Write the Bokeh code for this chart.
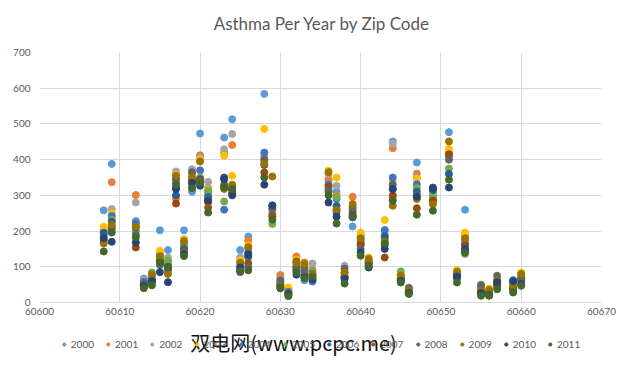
from bokeh.plotting import figure
from bokeh.layouts import column
from bokeh.models import (Legend, LegendItem, FixedTicker, BasicTickFormatter, Label)
from bokeh.embed import file_html
from bokeh.resources import INLINE

# ---------------- data ----------------
zip_codes = [60608, 60609, 60612, 60613, 60614, 60615, 60616, 60617, 60618, 60619,
             60620, 60621, 60623, 60624, 60625, 60626, 60628, 60629, 60630, 60631,
             60632, 60633, 60634, 60636, 60637, 60638, 60639, 60640, 60641, 60643,
             60644, 60645, 60646, 60647, 60649, 60651, 60652, 60653, 60655, 60656,
             60657, 60659, 60660]

y2000 = [258, 388, 228, 67, 75, 202, 147, 345, 202, 310, 473, 300, 462, 513, 147, 185, 584, 260, 70, 35,
         98, 62, 62, 340, 310, 85, 213, 190, 115, 180, 451, 72, 38, 392, 300, 477, 80, 260, 40, 30, 60, 63, 70]
y2001 = [205, 337, 301, 60, 70, 140, 115, 290, 170, 360, 412, 320, 420, 441, 110, 173, 412, 250, 77, 38,
         129, 112, 92, 345, 300, 80, 296, 180, 118, 200, 432, 78, 36, 361, 310, 416, 85, 190, 42, 32, 58, 55, 75]
y2002 = [200, 262, 280, 62, 72, 135, 126, 367, 165, 373, 405, 338, 429, 472, 126, 150, 406, 265, 65, 40,
         110, 95, 109, 360, 327, 103, 270, 185, 120, 190, 445, 70, 42, 350, 305, 420, 82, 185, 45, 28, 65, 50, 72]
y2003 = [212, 250, 215, 55, 68, 145, 110, 358, 178, 355, 400, 315, 411, 355, 118, 160, 486, 255, 60, 42,
         120, 105, 84, 369, 350, 90, 250, 196, 126, 231, 340, 80, 35, 346, 280, 430, 91, 196, 38, 39, 55, 45, 84]
y2004 = [190, 242, 222, 58, 65, 120, 105, 320, 160, 330, 370, 310, 260, 320, 100, 140, 420, 245, 55, 30,
         95, 85, 59, 330, 290, 72, 238, 170, 105, 203, 350, 65, 32, 331, 290, 410, 75, 175, 35, 25, 52, 58, 68]
y2005 = [185, 232, 200, 52, 84, 125, 117, 335, 155, 325, 350, 313, 283, 310, 105, 125, 395, 220, 52, 28,
         105, 80, 88, 320, 295, 75, 260, 175, 110, 175, 294, 87, 30, 320, 295, 375, 72, 136, 50, 22, 50, 40, 65]
y2006 = [195, 226, 210, 50, 62, 115, 100, 300, 150, 340, 345, 295, 350, 315, 95, 130, 385, 270, 50, 25,
         90, 75, 70, 310, 270, 70, 245, 160, 108, 185, 318, 68, 28, 310, 315, 360, 78, 160, 30, 24, 45, 42, 66]
y2007 = [175, 212, 154, 48, 58, 110, 95, 277, 145, 345, 342, 266, 330, 305, 90, 110, 364, 240, 48, 22,
         115, 100, 75, 325, 257, 68, 255, 165, 112, 126, 300, 66, 26, 264, 285, 415, 70, 163, 28, 26, 48, 38, 60]
y2008 = [170, 205, 190, 54, 55, 105, 90, 345, 140, 365, 338, 290, 325, 325, 85, 100, 400, 262, 62, 27,
         100, 90, 80, 315, 250, 95, 265, 150, 100, 160, 330, 62, 40, 300, 322, 400, 68, 145, 48, 20, 75, 35, 62]
y2009 = [165, 218, 212, 45, 78, 130, 80, 355, 172, 350, 395, 280, 318, 330, 112, 155, 388, 353, 45, 20,
         112, 108, 78, 365, 260, 84, 276, 180, 122, 170, 271, 75, 34, 290, 275, 451, 86, 180, 32, 35, 62, 48, 80]
y2010 = [180, 170, 168, 47, 60, 85, 57, 318, 135, 335, 327, 285, 345, 300, 98, 135, 330, 272, 40, 24,
         78, 70, 65, 280, 240, 66, 242, 140, 98, 150, 318, 60, 27, 296, 320, 322, 73, 150, 26, 21, 57, 60, 52]
y2011 = [143, 196, 182, 40, 48, 112, 98, 330, 130, 320, 335, 252, 322, 318, 88, 90, 350, 232, 42, 18,
         85, 68, 72, 300, 221, 53, 240, 131, 102, 165, 285, 56, 24, 246, 257, 344, 56, 140, 19, 19, 37, 28, 47]

years = ["2000", "2001", "2002", "2003", "2004", "2005", "2006", "2007", "2008", "2009", "2010", "2011"]
series = [y2000, y2001, y2002, y2003, y2004, y2005, y2006, y2007, y2008, y2009, y2010, y2011]
colors = ["#5B9BD5", "#ED7D31", "#A5A5A5", "#FFC000", "#4472C4", "#70AD47",
          "#255E91", "#9E480E", "#636363", "#997300", "#264478", "#43682B"]

x_ticks = [60600, 60610, 60620, 60630, 60640, 60650, 60660, 60670]
y_ticks = [0, 100, 200, 300, 400, 500, 600, 700]

title_text = "Asthma Per Year by Zip Code"
watermark_text = "双电网(www.pcpc.me)"

FONT = "Lato"
TXT = "#595959"
GRID = "#D9D9D9"


def strip(height):
    f = figure(width=632, height=height, x_range=(0, 1), y_range=(0, 1),
               output_backend="svg", toolbar_location=None,
               min_border=0, min_border_left=0, min_border_right=0,
               min_border_top=0, min_border_bottom=0)
    f.axis.visible = False
    f.grid.visible = False
    f.outline_line_color = None
    f.background_fill_color = "white"
    f.border_fill_color = "white"
    return f


# ---------------- title strip ----------------
tf = strip(36)
tf.add_layout(Label(x=0.503, y=0.36, text=title_text, text_font=FONT, text_font_size="17px",
                    text_color=TXT, text_align="center", text_baseline="middle"))

# ---------------- main chart ----------------
p = figure(frame_width=562, frame_height=250, x_range=(60600, 60670), y_range=(0, 700),
           output_backend="svg", toolbar_location=None,
           min_border_left=39, min_border_right=31, min_border_top=16, min_border_bottom=20)

p.outline_line_color = None
p.background_fill_color = "white"
p.border_fill_color = "white"

for ax in (p.xaxis[0], p.yaxis[0]):
    ax.major_label_text_font = FONT
    ax.major_label_text_font_size = "10px"
    ax.major_label_text_color = TXT
    ax.major_tick_line_color = None
    ax.minor_tick_line_color = None
    ax.major_tick_out = 0
    ax.major_tick_in = 0
    ax.minor_tick_out = 0

p.xaxis.ticker = FixedTicker(ticks=x_ticks)
p.yaxis.ticker = FixedTicker(ticks=y_ticks)
p.xaxis.formatter = BasicTickFormatter(use_scientific=False)
p.xaxis.axis_line_color = GRID
p.yaxis.axis_line_color = None
p.xaxis.major_label_standoff = 5
p.yaxis.major_label_standoff = 9

p.xgrid.grid_line_color = GRID
p.ygrid.grid_line_color = GRID
p.xgrid.ticker = FixedTicker(ticks=x_ticks)
p.ygrid.ticker = FixedTicker(ticks=y_ticks)

for name, ys, c in zip(years, series, colors):
    p.scatter(zip_codes, ys, size=7, fill_color=c, line_color=c, marker="circle")

# ---------------- legend strip ----------------
# same series, but this strip's ranges keep them out of view: only the legend shows
lf = strip(44)
items = []
for name, ys, c in zip(years, series, colors):
    r = lf.scatter(zip_codes, ys, size=7, fill_color=c, line_color=c, marker="circle")
    items.append(LegendItem(label=name, renderers=[r]))

legend = Legend(items=items, orientation="horizontal", location="center",
                border_line_color=None, background_fill_alpha=0,
                label_text_font=FONT, label_text_font_size="10px", label_text_color=TXT,
                label_height=12, glyph_width=8, glyph_height=8, label_standoff=3, spacing=10,
                padding=0, margin=0)
lf.add_layout(legend)

wm = Label(x=0.452, y=0.55, text=watermark_text, text_font="Noto Sans CJK SC",
           text_font_size="20px", text_color="#111111", text_align="center",
           text_baseline="middle")
lf.add_layout(wm)

layout = column(tf, p, lf, spacing=0)
open("out.html", "w").write(file_html(layout, INLINE))
